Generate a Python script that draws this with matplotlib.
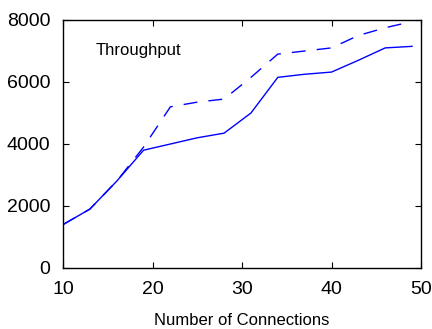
import matplotlib
matplotlib.use("Agg")
import matplotlib.pyplot as plt

connections = [10, 13, 16, 19, 22, 25, 28, 31, 34, 37, 40, 43, 46, 49]
throughput_solid = [1400, 1900, 2800, 3800, 4000, 4200, 4350, 5000, 6150, 6250, 6320, 6700, 7100, 7150]
throughput_dashed = [1400, 1900, 2800, 3900, 5200, 5350, 5450, 6150, 6900, 7000, 7100, 7500, 7750, 7950]
xticks = [10, 20, 30, 40, 50]
yticks = [0, 2000, 4000, 6000, 8000]

plt.rcParams['font.family'] = ['Liberation Sans', 'DejaVu Sans']

fig = plt.figure(figsize=(4.32, 3.29), dpi=100)
ax = fig.add_axes([63/432, 61/329, (421-63)/432, (268-20)/329])

ax.plot(connections, throughput_solid, color='#0000ff', lw=1.0)
ax.plot(connections, throughput_dashed, color='#0000ff', lw=1.0, dashes=(10, 8))

ax.set_xlim(10, 50)
ax.set_ylim(0, 8000)
ax.set_xticks(xticks)
ax.set_yticks(yticks)
ax.tick_params(direction='in', length=4, width=0.8, top=True, right=True,
               labelsize=14, pad=9, colors='black')
for s in ax.spines.values():
    s.set_linewidth(1.0)
    s.set_color('black')

ax.text(13.6, 7000, 'Throughput', fontsize=12, va='center', ha='left')
ax.set_xlabel('Number of Connections', fontsize=12, labelpad=11)

fig.savefig('out.png', dpi=100)
